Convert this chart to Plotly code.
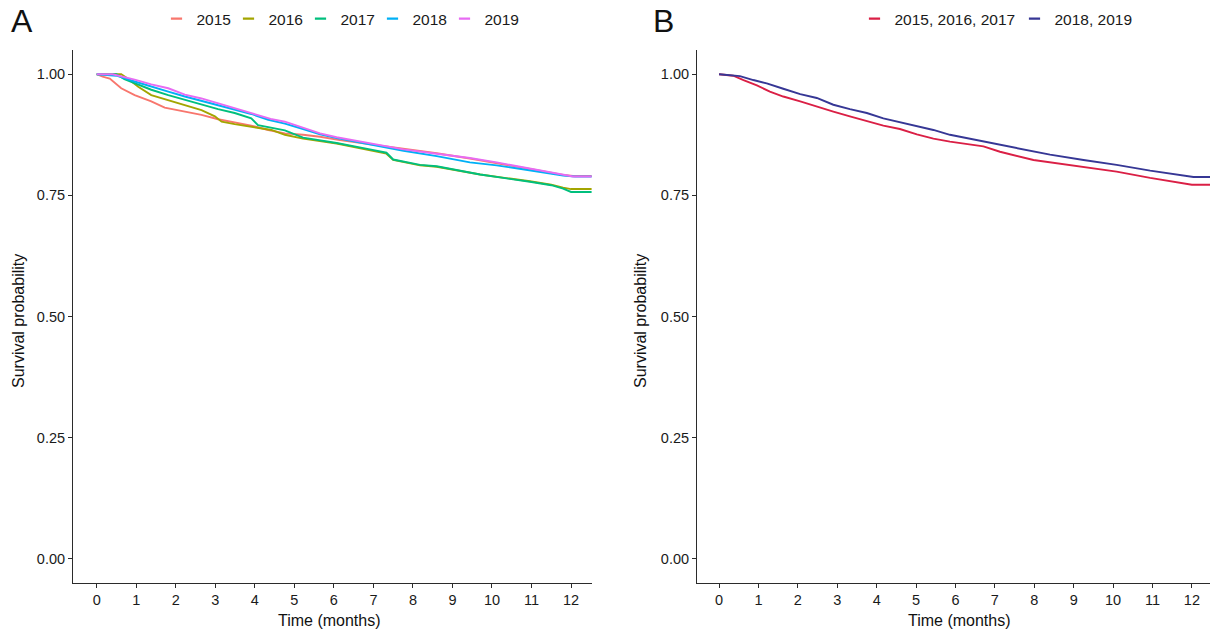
import plotly.graph_objects as go

# ---------------- data ----------------
years = ["2015", "2016", "2017", "2018", "2019"]
year_colors = ["#F8766D", "#A3A500", "#00BF7D", "#00B0F6", "#E76BF3"]

t_2015 = [0, 0.15, 0.33, 0.62, 0.96, 1.38, 1.72, 2.23, 2.65, 3.07, 3.49, 3.91, 4.34, 4.76, 5.22, 5.65, 6.15, 6.6, 7.0, 7.76, 8.6, 9.44, 10.12, 11.0, 11.8, 12.05, 12.52]
s_2015 = [1.0, 0.995, 0.991, 0.971, 0.957, 0.944, 0.931, 0.923, 0.916, 0.907, 0.901, 0.894, 0.885, 0.878, 0.875, 0.871, 0.864, 0.859, 0.855, 0.845, 0.837, 0.826, 0.817, 0.804, 0.792, 0.790, 0.790]

t_2016 = [0, 0.62, 0.8, 1.05, 1.38, 1.81, 2.23, 2.65, 2.99, 3.16, 3.49, 3.91, 4.42, 4.76, 5.22, 6.07, 6.91, 7.33, 7.5, 8.18, 8.6, 9.44, 9.7, 10.96, 11.5, 11.8, 12.0, 12.52]
s_2016 = [1.0, 1.0, 0.990, 0.974, 0.957, 0.947, 0.937, 0.926, 0.913, 0.902, 0.897, 0.892, 0.885, 0.875, 0.867, 0.857, 0.843, 0.836, 0.823, 0.812, 0.809, 0.797, 0.793, 0.779, 0.772, 0.766, 0.763, 0.763]

t_2017 = [0, 0.5, 0.7, 0.96, 1.38, 1.81, 2.23, 2.65, 3.07, 3.49, 3.91, 4.08, 4.42, 4.76, 5.22, 6.07, 6.91, 7.33, 7.5, 8.18, 8.6, 9.44, 9.7, 10.96, 11.5, 11.8, 12.0, 12.52]
s_2017 = [1.0, 1.0, 0.990, 0.981, 0.968, 0.957, 0.947, 0.937, 0.928, 0.920, 0.909, 0.895, 0.889, 0.884, 0.869, 0.858, 0.845, 0.838, 0.824, 0.813, 0.810, 0.798, 0.793, 0.778, 0.771, 0.764, 0.757, 0.757]

t_2018 = [0, 0.5, 0.96, 1.38, 1.81, 2.23, 2.65, 3.07, 3.49, 3.91, 4.34, 4.76, 5.22, 5.65, 6.07, 6.91, 7.76, 8.6, 9.44, 10.12, 11.0, 11.8, 12.1, 12.52]
s_2018 = [1.0, 0.997, 0.985, 0.974, 0.964, 0.954, 0.945, 0.936, 0.927, 0.918, 0.906, 0.898, 0.887, 0.876, 0.868, 0.855, 0.842, 0.831, 0.818, 0.812, 0.801, 0.791, 0.789, 0.789]

t_2019 = [0, 0.4, 0.96, 1.38, 1.81, 2.23, 2.65, 3.07, 3.49, 3.91, 4.4, 4.76, 5.22, 5.65, 6.07, 6.91, 7.76, 8.6, 9.44, 10.12, 11.0, 11.8, 12.05, 12.52]
s_2019 = [1.0, 1.0, 0.989, 0.979, 0.971, 0.958, 0.950, 0.940, 0.931, 0.921, 0.908, 0.902, 0.889, 0.878, 0.870, 0.858, 0.845, 0.836, 0.827, 0.818, 0.805, 0.792, 0.789, 0.789]

groups = ["2015, 2016, 2017", "2018, 2019"]
group_colors = ["#DA1F45", "#363795"]

t_g1 = [0, 0.36, 0.62, 0.96, 1.29, 1.63, 2.06, 2.48, 2.9, 3.32, 3.75, 4.17, 4.59, 5.02, 5.44, 5.86, 6.71, 7.13, 7.98, 8.83, 9.67, 10.09, 10.94, 11.78, 12.0, 12.46]
s_g1 = [1.0, 0.997, 0.988, 0.977, 0.964, 0.954, 0.944, 0.933, 0.923, 0.913, 0.904, 0.894, 0.887, 0.876, 0.867, 0.861, 0.851, 0.840, 0.823, 0.813, 0.803, 0.799, 0.786, 0.774, 0.772, 0.772]

t_g2 = [0, 0.53, 0.87, 1.21, 1.63, 2.06, 2.48, 2.9, 3.32, 3.75, 4.17, 4.59, 5.02, 5.44, 5.86, 6.71, 7.56, 8.4, 9.25, 10.09, 10.94, 11.78, 12.04, 12.46]
s_g2 = [1.0, 0.996, 0.988, 0.981, 0.970, 0.959, 0.951, 0.937, 0.928, 0.920, 0.909, 0.901, 0.892, 0.885, 0.875, 0.861, 0.847, 0.834, 0.823, 0.813, 0.801, 0.790, 0.788, 0.788]

x_ticks = list(range(0, 13))
y_ticks = [0.0, 0.25, 0.5, 0.75, 1.0]
y_ticktext = ["0.00", "0.25", "0.50", "0.75", "1.00"]

# ---------------- figure ----------------
W, H = 1210, 631
FONT = "Liberation Sans, Arial, Helvetica, sans-serif"

fig = go.Figure()


def add_series(names, colors, ts, ss, xa, ya, leg, last_width):
    n = len(names)
    for i, (name, col, tt, s) in enumerate(zip(names, colors, ts, ss)):
        # the survival curve itself
        fig.add_trace(go.Scatter(x=tt, y=s, mode="lines", name=name, showlegend=False,
                                 legendgroup=name, line=dict(color=col, width=1.9),
                                 xaxis=xa, yaxis=ya))
        # legend key: a short dash like ggplot's key
        key = go.Scatter(x=[None], y=[None], mode="markers", name=name,
                         legendgroup=name, legend=leg, showlegend=True,
                         marker=dict(symbol="line-ew", size=8, color=col,
                                     line=dict(color=col, width=2.2)),
                         xaxis=xa, yaxis=ya, hoverinfo="skip")
        if i == n - 1:
            key.legendwidth = last_width
        fig.add_trace(key)


add_series(years, year_colors, [t_2015, t_2016, t_2017, t_2018, t_2019],
           [s_2015, s_2016, s_2017, s_2018, s_2019], "x", "y", "legend", 42)
add_series(groups, group_colors, [t_g1, t_g2], [s_g1, s_g2], "x2", "y2", "legend2", 88)

ydom = [1 - 583 / H, 1 - 50 / H]
axis_common = dict(showline=True, linecolor="#2b2b2b", linewidth=1.1,
                   ticks="outside", ticklen=4, tickcolor="#2b2b2b", tickwidth=1.1,
                   showgrid=False, zeroline=False,
                   tickfont=dict(family=FONT, size=14.5, color="#1a1a1a"))

leg_common = dict(orientation="h", yanchor="middle", y=1 - 19 / H,
                  font=dict(family=FONT, size=15.5, color="#1a1a1a"),
                  bgcolor="rgba(0,0,0,0)", itemwidth=30, xanchor="center",
                  entrywidthmode="pixels")

fig.update_layout(
    width=W, height=H,
    margin=dict(l=0, r=0, t=0, b=0),
    paper_bgcolor="white", plot_bgcolor="white",
    font=dict(family=FONT, color="#1a1a1a"),
    xaxis=dict(domain=[73 / W, 592 / W], range=[-0.6, 12.53], tickvals=x_ticks,
               anchor="y", **axis_common),
    yaxis=dict(domain=ydom, range=[-0.05, 1.05], tickvals=y_ticks, ticktext=y_ticktext,
               anchor="x", **axis_common),
    xaxis2=dict(domain=[697 / W, 1.0], range=[-0.56, 12.46], tickvals=x_ticks,
                anchor="y2", **axis_common),
    yaxis2=dict(domain=ydom, range=[-0.05, 1.05], tickvals=y_ticks, ticktext=y_ticktext,
                anchor="x2", **axis_common),
    legend=dict(x=344 / W, entrywidth=27, **leg_common),
    legend2=dict(x=1001 / W, entrywidth=115, **leg_common),
    showlegend=True,
)

annots = [
    dict(text="A", x=9 / W, y=1 - 21 / H, xanchor="left", yanchor="middle", font=dict(size=32)),
    dict(text="B", x=651 / W, y=1 - 21 / H, xanchor="left", yanchor="middle", font=dict(size=32)),
    dict(text="Survival probability", x=18 / W, y=1 - 321 / H, textangle=-90,
         xanchor="center", yanchor="middle", font=dict(size=16)),
    dict(text="Survival probability", x=640 / W, y=1 - 321 / H, textangle=-90,
         xanchor="center", yanchor="middle", font=dict(size=16)),
    dict(text="Time (months)", x=329 / W, y=1 - 620 / H, xanchor="center", yanchor="middle",
         font=dict(size=16)),
    dict(text="Time (months)", x=959 / W, y=1 - 620 / H, xanchor="center", yanchor="middle",
         font=dict(size=16)),
]
for a in annots:
    a.update(xref="paper", yref="paper", showarrow=False)
    a["font"].update(family=FONT, color="#111111")
fig.update_layout(annotations=annots)

fig.write_html("out.html")
